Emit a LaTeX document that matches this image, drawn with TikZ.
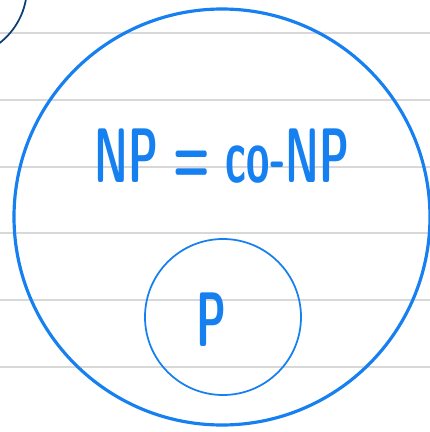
\documentclass[tikz,border=0pt]{standalone}
\usepackage{graphicx}
\definecolor{penblue}{RGB}{22,128,240}
\definecolor{inkdark}{RGB}{12,62,120}
\definecolor{ruleline}{RGB}{216,216,216}
\newcommand{\handtext}[1]{\scalebox{0.55}[1]{#1}}
\tikzset{
  pen/.style={draw=penblue, line width=0.9pt},
  thinpen/.style={draw=penblue, line width=0.5pt},
  hand/.style={text=penblue, font=\sffamily\bfseries\fontsize{22}{22}\selectfont, inner sep=0pt},
}
\begin{document}
\begin{tikzpicture}
\clip (0,0) rectangle (4.30,4.32);
% ruled paper
\foreach \y in {3.99,3.32,2.65,1.99,1.32,0.65}
  \draw[ruleline, line width=0.55pt] (0,\y) -- (4.30,\y);
% left over from the picture before
\draw[inkdark, line width=0.5pt] (-0.44,4.45) circle (0.71);

\node[circle, pen, minimum size=4.16cm, inner sep=0pt] (np) at (2.22,2.15) {};
\node[circle, thinpen, minimum size=1.56cm, inner sep=0pt] (p) at (2.23,1.15) {};
\node[hand, anchor=base] (nplabel) at (2.22,2.50) {\handtext{NP = co-NP}};
\node[hand, anchor=base] (plabel) at (2.11,0.86) {\handtext{P}};
\end{tikzpicture}
\end{document}
